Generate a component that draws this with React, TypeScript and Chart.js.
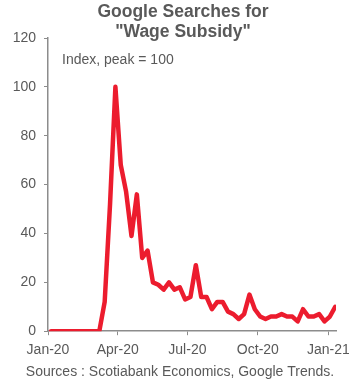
import React, { useEffect, useRef } from "react";
import { Chart, registerables } from "chart.js";

Chart.register(...registerables);

// Weekly Google Trends index for "Wage Subsidy", weeks starting 2020-01-05
const firstWeek = "2020-01-05";
const searchIndex = [
  0, 0, 0, 0, 0, 0, 0, 0, 0, 0,
  12, 52, 100, 68, 57, 39, 56, 30, 33, 20,
  19, 17, 20, 17, 18, 13, 14, 27, 14, 14,
  9, 12, 12, 8, 7, 5, 7, 15, 9, 6,
  5, 6, 6, 7, 6, 6, 4, 9, 6, 6,
  7, 4, 6, 10,
];

// x-axis: days since 2020-01-01
const xTickDays = [0, 91, 182, 274, 366];
const xTickLabels = ["Jan-20", "Apr-20", "Jul-20", "Oct-20", "Jan-21"];
const yTicks = [0, 20, 40, 60, 80, 100, 120];

const titleLines = ["Google Searches for", '"Wage Subsidy"'];
const noteText = "Index, peak = 100";
const sourceText = "Sources : Scotiabank Economics, Google Trends.";

const FONT = "'Liberation Sans', Arial, sans-serif";
const TEXT = "#595959";
const AXIS = "#8c8c8c";
const RED = "#ec1c2e";

const DAY = 86400000;
const origin = Date.UTC(2020, 0, 1);
const weekZero = (Date.parse(firstWeek + "T00:00:00Z") - origin) / DAY;
const points = searchIndex.map((v, i) => ({ x: weekZero + 7 * i, y: v }));

// Title, in-plot note and source line
const textPlugin = {
  id: "chartTexts",
  afterDraw(chart: any) {
    const { ctx, chartArea, scales } = chart;
    ctx.save();
    ctx.fillStyle = TEXT;
    ctx.textBaseline = "middle";

    ctx.textAlign = "center";
    ctx.font = `bold 17.5px ${FONT}`;
    titleLines.forEach((line, i) => ctx.fillText(line, 183, 12 + 20.5 * i));

    ctx.textAlign = "left";
    ctx.font = `14px ${FONT}`;
    ctx.fillText(noteText, chartArea.left + 14, scales.y.getPixelForValue(111));

    ctx.textAlign = "center";
    ctx.font = `14px ${FONT}`;
    ctx.fillText(sourceText, 180, 372);
    ctx.restore();
  },
};

export default function App() {
  const ref = useRef<HTMLCanvasElement | null>(null);

  useEffect(() => {
    if (!ref.current) return;
    const chart = new Chart(ref.current, {
      type: "line",
      data: {
        datasets: [
          {
            data: points,
            borderColor: RED,
            borderWidth: 4.5,
            pointRadius: 0,
            tension: 0,
            borderJoinStyle: "round",
            borderCapStyle: "round",
          },
        ],
      },
      options: {
        animation: false,
        responsive: false,
        layout: { padding: { left: 0, right: 0, top: 38, bottom: 18 } },
        plugins: {
          legend: { display: false },
          tooltip: { enabled: false },
          title: { display: false },
        },
        scales: {
          x: {
            type: "linear",
            min: 0,
            max: 376,
            afterBuildTicks: (scale: any) => {
              scale.ticks = xTickDays.map((d) => ({ value: d }));
            },
            afterFit: (scale: any) => {
              scale.paddingRight = 13;
            },
            ticks: {
              color: TEXT,
              font: { family: FONT, size: 14 },
              padding: 7,
              maxRotation: 0,
              autoSkip: false,
              callback: (v: any) => {
                const i = xTickDays.indexOf(Number(v));
                return i >= 0 ? xTickLabels[i] : "";
              },
            },
            grid: { drawOnChartArea: false, color: AXIS, tickLength: 4 },
            border: { color: AXIS, width: 1.5 },
          },
          y: {
            min: 0,
            max: 120,
            afterBuildTicks: (scale: any) => {
              scale.ticks = yTicks.map((v) => ({ value: v }));
            },
            afterFit: (scale: any) => {
              scale.width = 48;
            },
            ticks: {
              color: TEXT,
              font: { family: FONT, size: 14 },
              padding: 8,
            },
            grid: { drawOnChartArea: false, color: AXIS, tickLength: 4 },
            border: { color: AXIS, width: 1.5 },
          },
        },
      },
      plugins: [textPlugin],
    } as any);
    return () => chart.destroy();
  }, []);

  return (
    <div style={{ position: "fixed", left: 0, top: 0, width: 349, height: 384, background: "#fff" }}>
      <canvas ref={ref} width={349} height={384} />
    </div>
  );
}
